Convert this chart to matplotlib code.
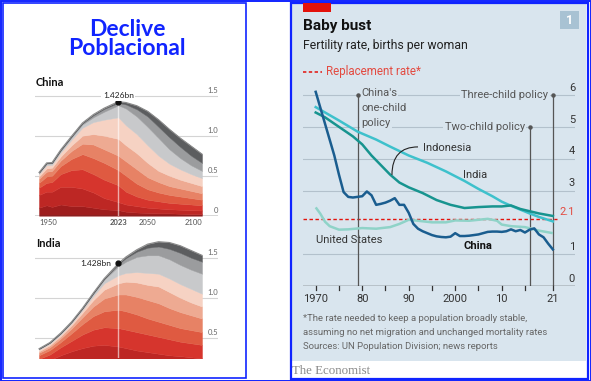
import numpy as np
import matplotlib
matplotlib.use("Agg")
import matplotlib.pyplot as plt
from matplotlib.patches import Rectangle, PathPatch
from matplotlib.path import Path

W, H = 591, 381
BLUE = "#1024ff"
ECON_BG = "#d9e5ee"
RED = "#e3120b"

# ---------------- left panel: population by age band, bn (cumulative tops, young -> old)
china_years = [1950, 1957, 1962, 1970, 1980, 1990, 2000, 2010, 2023, 2030, 2040,
               2050, 2060, 2070, 2080, 2090, 2100]
china_cum = [
    [0.10, 0.26, 0.35, 0.41, 0.46, 0.49, 0.52, 0.535, 0.538, 0.54],
    [0.13, 0.30, 0.41, 0.49, 0.55, 0.59, 0.63, 0.65, 0.655, 0.66],
    [0.11, 0.30, 0.42, 0.50, 0.56, 0.60, 0.635, 0.655, 0.66, 0.665],
    [0.14, 0.36, 0.52, 0.62, 0.69, 0.74, 0.79, 0.81, 0.82, 0.825],
    [0.12, 0.36, 0.57, 0.71, 0.81, 0.88, 0.95, 0.98, 0.99, 0.995],
    [0.12, 0.34, 0.58, 0.77, 0.90, 1.00, 1.10, 1.14, 1.155, 1.16],
    [0.10, 0.29, 0.52, 0.72, 0.89, 1.02, 1.17, 1.23, 1.255, 1.265],
    [0.08, 0.22, 0.45, 0.66, 0.83, 1.00, 1.20, 1.30, 1.335, 1.345],
    [0.07, 0.17, 0.38, 0.57, 0.75, 0.96, 1.23, 1.38, 1.41, 1.426],
    [0.05, 0.14, 0.30, 0.50, 0.68, 0.88, 1.13, 1.34, 1.39, 1.415],
    [0.04, 0.12, 0.24, 0.40, 0.58, 0.78, 1.02, 1.24, 1.33, 1.375],
    [0.035, 0.10, 0.20, 0.33, 0.48, 0.66, 0.88, 1.11, 1.24, 1.305],
    [0.03, 0.09, 0.18, 0.29, 0.42, 0.56, 0.75, 0.97, 1.11, 1.20],
    [0.03, 0.08, 0.16, 0.26, 0.37, 0.50, 0.65, 0.83, 0.98, 1.08],
    [0.025, 0.075, 0.15, 0.24, 0.34, 0.45, 0.58, 0.72, 0.86, 0.97],
    [0.02, 0.07, 0.14, 0.22, 0.31, 0.41, 0.52, 0.63, 0.75, 0.87],
    [0.02, 0.065, 0.13, 0.20, 0.28, 0.37, 0.47, 0.56, 0.66, 0.77],
]
india_years = [1950, 1960, 1970, 1980, 1990, 2000, 2010, 2023, 2030, 2040, 2050,
               2060, 2070, 2080, 2090, 2100]
india_cum = [
    [0.09, 0.17, 0.235, 0.28, 0.31, 0.33, 0.35, 0.357, 0.36, 0.362],
    [0.12, 0.22, 0.29, 0.345, 0.38, 0.405, 0.425, 0.435, 0.438, 0.44],
    [0.15, 0.28, 0.38, 0.445, 0.49, 0.52, 0.54, 0.553, 0.557, 0.56],
    [0.17, 0.33, 0.46, 0.555, 0.615, 0.655, 0.68, 0.693, 0.698, 0.70],
    [0.19, 0.37, 0.54, 0.67, 0.755, 0.81, 0.845, 0.862, 0.867, 0.87],
    [0.20, 0.40, 0.60, 0.77, 0.89, 0.97, 1.02, 1.048, 1.056, 1.06],
    [0.20, 0.41, 0.63, 0.83, 0.99, 1.10, 1.18, 1.225, 1.235, 1.24],
    [0.19, 0.39, 0.62, 0.85, 1.04, 1.18, 1.28, 1.39, 1.418, 1.428],
    [0.18, 0.37, 0.60, 0.83, 1.04, 1.20, 1.31, 1.45, 1.495, 1.51],
    [0.17, 0.34, 0.57, 0.79, 1.01, 1.19, 1.32, 1.51, 1.575, 1.60],
    [0.16, 0.32, 0.54, 0.74, 0.97, 1.16, 1.31, 1.53, 1.625, 1.67],
    [0.15, 0.30, 0.51, 0.70, 0.93, 1.14, 1.30, 1.53, 1.64, 1.70],
    [0.14, 0.28, 0.48, 0.66, 0.87, 1.07, 1.24, 1.48, 1.61, 1.69],
    [0.13, 0.27, 0.45, 0.62, 0.82, 1.00, 1.17, 1.41, 1.56, 1.65],
    [0.125, 0.255, 0.43, 0.595, 0.78, 0.94, 1.11, 1.35, 1.50, 1.59],
    [0.12, 0.24, 0.41, 0.57, 0.74, 0.89, 1.05, 1.30, 1.45, 1.53],
]
band_colors = ["#9e1d1d", "#bd2724", "#d6352d", "#df5a41", "#e78265", "#eeaa92",
               "#f6d2c3", "#c8c9cb", "#9b9c9e", "#5c5d5f"]
china_peak = 1.426
india_now = 1.428

# ---------------- right panel: fertility rate, births per woman
china_tfr_years = list(range(1970, 2022))
china_tfr = [6.1, 5.6, 5.1, 4.6, 4.1, 3.5, 2.95, 2.8, 2.78, 2.8,
             2.82, 2.97, 2.85, 2.55, 2.58, 2.62, 2.68, 2.76, 2.55, 2.55,
             2.3, 1.95, 1.8, 1.72, 1.66, 1.6, 1.56, 1.54, 1.53, 1.55,
             1.66, 1.57, 1.57, 1.58, 1.6, 1.62, 1.66, 1.7, 1.71, 1.71,
             1.7, 1.72, 1.78, 1.72, 1.76, 1.68, 1.77, 1.81, 1.62, 1.53,
             1.33, 1.15]
indonesia_years = [1970, 1972, 1975, 1978, 1980, 1982, 1984, 1986, 1988, 1990, 1993,
                   1996, 1999, 2002, 2005, 2008, 2010, 2012, 2014, 2016, 2018, 2021]
indonesia_tfr = [5.45, 5.3, 5.0, 4.7, 4.45, 4.1, 3.8, 3.5, 3.25, 3.1, 2.92,
                 2.7, 2.55, 2.45, 2.48, 2.5, 2.5, 2.53, 2.42, 2.35, 2.28, 2.2]
india_years_tfr = [1970, 1975, 1979, 1983, 1986, 1990, 1994, 1998, 2002, 2005, 2008,
                   2010, 2012, 2014, 2016, 2018, 2021]
india_tfr = [5.62, 5.2, 4.85, 4.6, 4.38, 4.1, 3.87, 3.6, 3.3, 3.05, 2.82,
             2.65, 2.52, 2.4, 2.28, 2.17, 2.03]
us_years = [1970, 1971, 1972, 1973, 1975, 1977, 1980, 1983, 1986, 1988, 1990, 1992,
            1995, 1998, 2000, 2003, 2007, 2009, 2010, 2012, 2015, 2018, 2021]
us_tfr = [2.47, 2.27, 2.02, 1.88, 1.77, 1.78, 1.82, 1.80, 1.85, 1.95, 2.08, 2.05,
          2.0, 2.0, 2.06, 2.05, 2.11, 2.05, 1.93, 1.88, 1.85, 1.74, 1.66]
replacement = 2.1
policies = [(1979, 6, "one"), (2016, 5, "Two-child policy"), (2021, 6, "Three-child policy")]
x_labels = {1970: "1970", 1980: "80", 1990: "90", 2000: "2000", 2010: "10", 2021: "21"}

LEFT_FONT = ["Lato", "DejaVu Sans"]
ECON_FONT = ["Roboto", "DejaVu Sans"]

fig = plt.figure(figsize=(W / 100, H / 100), dpi=100)
fig.patch.set_facecolor("white")

# background axes in pixel coordinates
bg = fig.add_axes([0, 0, 1, 1], zorder=0)
bg.set_xlim(0, W)
bg.set_ylim(H, 0)
bg.axis("off")

bg.add_patch(Rectangle((292, 3), 294, 358, color=ECON_BG, lw=0))
# frames
bg.add_patch(Rectangle((0.5, 0.5), W - 1, H - 1, fill=False, ec=BLUE, lw=1.4))
bg.add_patch(Rectangle((2.5, 2.5), 243.5, 375, fill=False, ec=BLUE, lw=1.2))
bg.add_patch(Rectangle((291, 2.5), 297, 376, fill=False, ec=BLUE, lw=1.6))

# left title
bg.text(127, 35.5, "Declive", ha="center", va="baseline", color=BLUE,
        fontsize=16.5, fontweight="bold", family=LEFT_FONT)
bg.text(127, 55, "Poblacional", ha="center", va="baseline", color=BLUE,
        fontsize=16.5, fontweight="bold", family=LEFT_FONT)
bg.text(36, 86, "China", ha="left", va="baseline", fontsize=8, fontweight="bold",
        family=LEFT_FONT, color="#111")
bg.text(36, 247, "India", ha="left", va="baseline", fontsize=8, fontweight="bold",
        family=LEFT_FONT, color="#111")

# ---- stacked area helpers
px_per_year = (202 - 39) / 150.0
xl = (1950 - (39 - 35) / px_per_year, 2100 + (218 - 202) / px_per_year)


def add_px_axes(x0, y0, x1, y1):
    return fig.add_axes([x0 / W, 1 - y1 / H, (x1 - x0) / W, (y1 - y0) / H], zorder=2)


def stack(ax, years, cum):
    cum = np.array(cum)
    lower = np.hstack([np.zeros((len(years), 1)), cum[:, :-1]])
    thick = (cum - lower).T
    polys = ax.stackplot(years, *thick, colors=band_colors, lw=0, zorder=2)
    for p, c in zip(polys, band_colors):
        p.set_edgecolor(c)
        p.set_linewidth(0.3)
    ax.plot(years, cum[:, -1], color="#8a8a8a", lw=0.8, zorder=3)


def style_left(ax, ylim):
    ax.set_xlim(*xl)
    ax.set_ylim(*ylim)
    ax.axis("off")
    for v in (0.5, 1.0, 1.5):
        ax.axhline(v, color="#d4d4d4", lw=0.8, zorder=1)
        ax.text(xl[1], v + 0.025, "%.1f" % v, ha="right", va="bottom", fontsize=5.5,
                color="#666", family=LEFT_FONT)


ax_c = add_px_axes(35, 88, 218, 215.7)
style_left(ax_c, (0, (215.7 - 88) / 80))
stack(ax_c, china_years, china_cum)
ax_c.axhline(0, color="#333", lw=1, zorder=4)
ax_c.text(xl[1], 0.025, "0", ha="right", va="bottom", fontsize=5.5, color="#666",
          family=LEFT_FONT)
ax_c.plot([2023, 2023], [0, china_peak], color="white", lw=1, alpha=0.6, zorder=4)
ax_c.plot(2023, china_peak, "o", color="#111", ms=3.5, zorder=5)
ax_c.text(2023, 1.5, "%.3fbn" % china_peak, ha="center", va="center", fontsize=6,
          color="#222", family=LEFT_FONT, zorder=5,
          bbox=dict(fc="white", ec="none", pad=1.2))
for yr, lab in [(1950, "left"), (2023, "center"), (2050, "center"), (2100, "right")]:
    ax_c.text(yr, -0.04, str(yr), ha=lab, va="top", fontsize=5.5, color="#555",
              family=LEFT_FONT, fontweight="bold" if yr == 2023 else "normal",
              clip_on=False)

ax_i = add_px_axes(35, 238, 218, 358.3)
style_left(ax_i, ((377.7 - 358.3) / 80, (377.7 - 238) / 80))
stack(ax_i, india_years, india_cum)
ax_i.plot([2023, 2023], [0, india_now], color="white", lw=1, alpha=0.6, zorder=4)
ax_i.plot(2023, india_now, "o", color="#111", ms=3.5, zorder=5)
ax_i.text(2016.5, india_now, "%.3fbn" % india_now, ha="right", va="center",
          fontsize=6, color="#222", family=LEFT_FONT, zorder=5)

# ---------------- right panel: Economist chart
bg.add_patch(Rectangle((303, 3), 28, 9, color=RED, lw=0))
bg.text(303, 26, "Baby bust", ha="left", va="center", fontsize=11, fontweight="bold",
        color="#111", family=ECON_FONT)
bg.text(303, 45, "Fertility rate, births per woman", ha="left", va="center",
        fontsize=8.8, color="#222", family=ECON_FONT)
bg.add_patch(Rectangle((560, 11), 19, 18, color="#a8c2d3", lw=0))
bg.text(569.5, 20, "1", ha="center", va="center", fontsize=9, fontweight="bold",
        color="white", family=ECON_FONT)
bg.plot([303, 322], [72, 72], color=RED, lw=1.1, ls=(0, (2.2, 1.6)))
bg.text(326, 72, "Replacement rate*", ha="left", va="center", fontsize=8.3,
        color="#e34a40", family=ECON_FONT)

x_px0 = 315.7
ppy = 4.65
exl = (1970 - (x_px0 - 303) / ppy, 1970 + (575 - x_px0) / ppy)
ax_e = add_px_axes(303, 80, 575, 286)
ax_e.set_xlim(*exl)
ax_e.set_ylim(0, (286 - 80) / 31.83)
ax_e.patch.set_alpha(0)
ax_e.axis("off")
for v in (1, 3, 4, 5, 6):
    ax_e.axhline(v, color="#b3c1cc", lw=0.8, zorder=1)
    ax_e.text(exl[1], v + 0.07, str(v), ha="right", va="bottom", fontsize=8,
              color="#333", family=ECON_FONT)
ax_e.text(exl[1], 0.07, "0", ha="right", va="bottom", fontsize=8, color="#333",
          family=ECON_FONT)
ax_e.text(exl[1], replacement + 0.07, "2.1", ha="right", va="bottom", fontsize=8,
          color="#e34a40", family=ECON_FONT)
ax_e.axhline(0, color="#333", lw=1, zorder=6)
for yr in range(1970, 2025, 5):
    t = 2021 if yr == 2020 else yr
    ax_e.plot([t, t], [0, -0.13], color="#333", lw=0.9, clip_on=False, zorder=6)
for yr, lab in x_labels.items():
    ax_e.text(yr, -0.25, lab, ha="center", va="top", fontsize=8, color="#333",
              family=ECON_FONT, clip_on=False)

# policy lines
for yr, top, lab in policies:
    ax_e.plot([yr, yr], [0, top], color="#555", lw=0.9, zorder=4)
    ax_e.plot(yr, top, "o", color="#555", ms=2.2, zorder=4)
tb = dict(fc=ECON_BG, ec="none", pad=1.0)
for i, s in enumerate(["China's", "one-child", "policy"]):
    ax_e.text(1979.75, [6.05, 5.58, 5.13][i], s, ha="left", va="center", fontsize=8,
              color="#555", family=ECON_FONT, zorder=3, bbox=tb)
ax_e.text(2015.0, 5.0, "Two-child policy", ha="right", va="center", fontsize=8,
          color="#555", family=ECON_FONT, zorder=3, bbox=tb)
ax_e.text(2020.0, 6.0, "Three-child policy", ha="right", va="center", fontsize=8,
          color="#555", family=ECON_FONT, zorder=3, bbox=tb)

ax_e.plot([exl[0], 2021.8], [replacement] * 2, color=RED, lw=1.0, ls=(0, (2.5, 1.8)),
          zorder=3)
ax_e.plot(us_years, us_tfr, color="#8fd3c8", lw=1.8, zorder=5, solid_capstyle="butt")
ax_e.plot(india_years_tfr, india_tfr, color="#3ec1cc", lw=1.8, zorder=5)
ax_e.plot(indonesia_years, indonesia_tfr, color="#17948f", lw=1.8, zorder=5)
ax_e.plot(china_tfr_years, china_tfr, color="#1a5d8f", lw=1.8, zorder=5)

# labels on lines
ax_e.text(1993.1, 4.34, "Indonesia", ha="left", va="center", fontsize=8, color="#333",
          family=ECON_FONT)
curve = Path([(1992.0, 4.37), (1986.4, 4.37), (1986.4, 3.49)],
             [Path.MOVETO, Path.CURVE3, Path.CURVE3])
ax_e.add_patch(PathPatch(curve, fc="none", ec="#222", lw=0.8, zorder=6))
ax_e.text(2001.7, 3.49, "India", ha="left", va="center", fontsize=8, color="#333",
          family=ECON_FONT)
ax_e.text(1970.1, 1.45, "United States", ha="left", va="center", fontsize=8,
          color="#333", family=ECON_FONT)
ax_e.text(2001.7, 1.26, "China", ha="left", va="center", fontsize=8,
          fontweight="bold", color="#111", family=ECON_FONT)

# footnotes
for y, s in [(318.5, "*The rate needed to keep a population broadly stable,"),
             (332.5, "assuming no net migration and unchanged mortality rates"),
             (346.5, "Sources: UN Population Division; news reports")]:
    bg.text(303, y, s, ha="left", va="center", fontsize=6.8, color="#666",
            family=ECON_FONT)
bg.text(292, 371.5, "The Economist", ha="left", va="center", fontsize=9.3,
        color="#8a8a8a", family=["Liberation Serif", "DejaVu Serif"])

fig.savefig("out.png", dpi=100)
